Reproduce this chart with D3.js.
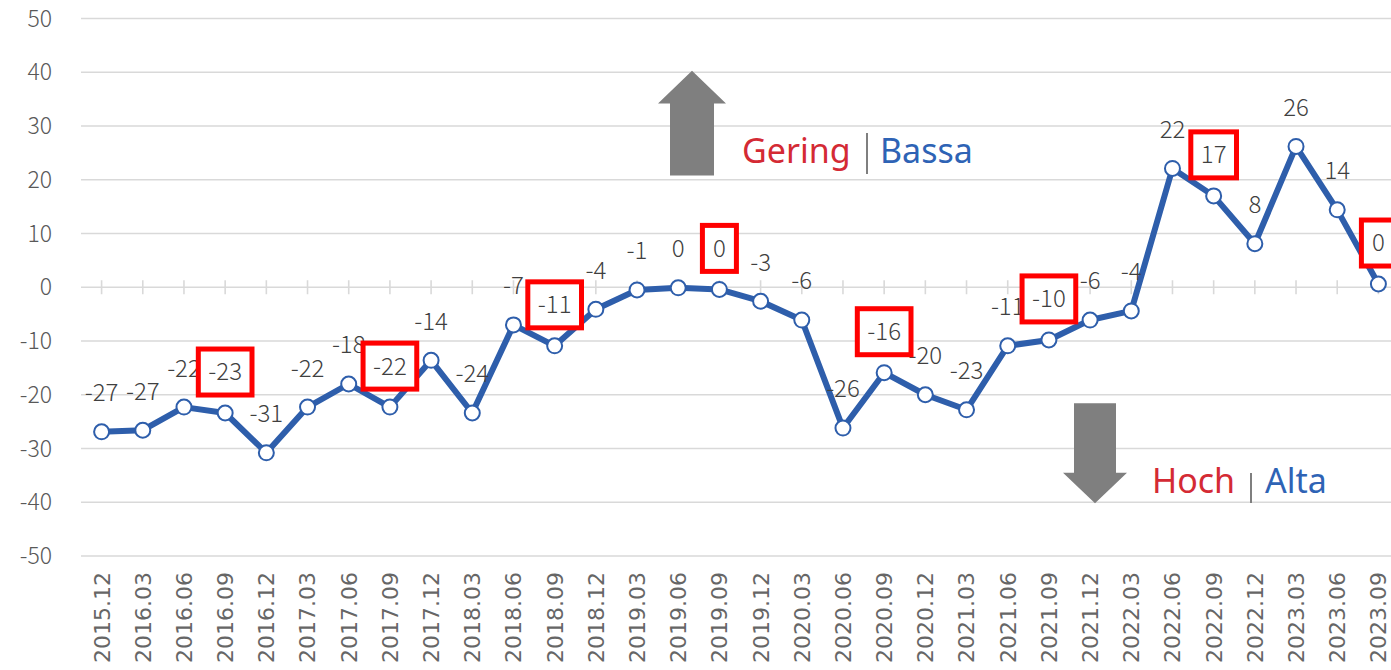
<!DOCTYPE html>
<html>
<head>
<meta charset="utf-8">
<script src="https://cdn.jsdelivr.net/npm/d3@7"></script>
<style>
  html, body { margin: 0; padding: 0; background: #fff; }
  svg { display: block; }
</style>
</head>
<body>
<svg id="chart" width="1391" height="670"></svg>
<script>
const categories = ["2015.12","2016.03","2016.06","2016.09","2016.12","2017.03","2017.06","2017.09","2017.12","2018.03","2018.06","2018.09","2018.12","2019.03","2019.06","2019.09","2019.12","2020.03","2020.06","2020.09","2020.12","2021.03","2021.06","2021.09","2021.12","2022.03","2022.06","2022.09","2022.12","2023.03","2023.06","2023.09"];
const values = [-26.9,-26.6,-22.3,-23.4,-30.8,-22.3,-18,-22.3,-13.6,-23.4,-7,-10.9,-4.1,-0.5,-0.1,-0.4,-2.6,-6.1,-26.2,-15.9,-20,-22.8,-10.9,-9.8,-6.1,-4.4,22.1,17,8.1,26.2,14.4,0.6];
const labels = ["-27","-27","-22","-23","-31","-22","-18","-22","-14","-24","-7","-11","-4","-1","0","0","-3","-6","-26","-16","-20","-23","-11","-10","-6","-4","22","17","8","26","14","0"];
const boxed = ["2016.09","2017.09","2018.09","2019.09","2020.09","2021.09","2022.09","2023.09"];
const yTicks = [50,40,30,20,10,0,-10,-20,-30,-40,-50];

const svg = d3.select("#chart");
const x = d3.scalePoint().domain(categories).range([81, 1399]).padding(0.5);
const y = d3.scaleLinear().domain([-50, 50]).range([556, 18.5]);
const data = categories.map((c, i) => ({c, v: values[i], l: labels[i], boxed: boxed.includes(c)}));

// gridlines
svg.append("g").selectAll("line").data(yTicks).join("line")
  .attr("x1", 81).attr("x2", 1399)
  .attr("y1", d => y(d)).attr("y2", d => y(d))
  .attr("stroke", "#d9d9d9").attr("stroke-width", 1.6);

// zero axis tick marks
svg.append("g").selectAll("line").data(categories).join("line")
  .attr("x1", d => x(d)).attr("x2", d => x(d))
  .attr("y1", y(0) - 7).attr("y2", y(0) + 7)
  .attr("stroke", "#d9d9d9").attr("stroke-width", 1.6);

const labFont = "'Noto Sans CJK JP', 'Noto Sans', sans-serif";

// y labels
svg.append("g").selectAll("text").data(yTicks).join("text")
  .attr("x", 52).attr("y", d => y(d)).attr("dy", "0.35em")
  .attr("text-anchor", "end")
  .attr("font-family", labFont).attr("font-weight", 300)
  .attr("font-size", 23).attr("fill", "#595959")
  .text(d => d);

// x labels
svg.append("g").selectAll("text").data(categories).join("text")
  .attr("transform", d => `translate(${x(d)},572) rotate(-90)`)
  .attr("dy", "0.36em")
  .attr("text-anchor", "end")
  .attr("font-family", "'DejaVu Sans', sans-serif")
  .attr("font-size", 22).attr("fill", "#666666")
  .text(d => d);

// annotations: arrows
const gray = "#7f7f7f";
const upX = 692, dnX = 1095;
svg.append("path")
  .attr("d", `M${upX},${y(40.3)} L${upX+34},${y(34.2)} L${upX+22},${y(34.2)} L${upX+22},${y(20.8)} L${upX-22},${y(20.8)} L${upX-22},${y(34.2)} L${upX-34},${y(34.2)} Z`)
  .attr("fill", gray);
svg.append("path")
  .attr("d", `M${dnX},${y(-40.2)} L${dnX+32},${y(-34.5)} L${dnX+21},${y(-34.5)} L${dnX+21},${y(-21.6)} L${dnX-21},${y(-21.6)} L${dnX-21},${y(-34.5)} L${dnX-32},${y(-34.5)} Z`)
  .attr("fill", gray);

// legend texts
const legendFont = "'Noto Sans', 'Open Sans', sans-serif";
function legend(xs, base, red, blue, sepX, sepY1, sepY2, blueX) {
  svg.append("text").attr("x", xs).attr("y", base)
    .attr("font-family", legendFont).attr("font-size", 34).attr("fill", "#d42a34").text(red);
  svg.append("line").attr("x1", sepX).attr("x2", sepX).attr("y1", sepY1).attr("y2", sepY2)
    .attr("stroke", "#7f7f7f").attr("stroke-width", 2);
  svg.append("text").attr("x", blueX).attr("y", base)
    .attr("font-family", legendFont).attr("font-size", 34).attr("fill", "#2e63b5").text(blue);
}
legend(742, 163, "Gering", "Bassa", 867, 133, 174, 880);
legend(1152, 493, "Hoch", "Alta", 1251, 473, 503, 1265);

// line
const line = d3.line().x(d => x(d.c)).y(d => y(d.v));
svg.append("path").datum(data)
  .attr("d", line).attr("fill", "none")
  .attr("stroke", "#2e5eab").attr("stroke-width", 6).attr("stroke-linejoin", "round");

// markers
svg.append("g").selectAll("circle").data(data).join("circle")
  .attr("cx", d => x(d.c)).attr("cy", d => y(d.v)).attr("r", 7.5)
  .attr("fill", "#fff").attr("stroke", "#2e5eab").attr("stroke-width", 2);

// plain labels
svg.append("g").selectAll("text").data(data.filter(d => !d.boxed)).join("text")
  .attr("x", d => x(d.c)).attr("y", d => y(d.v) - 39).attr("dy", "0.35em")
  .attr("text-anchor", "middle")
  .attr("font-family", labFont).attr("font-weight", 300)
  .attr("font-size", 24).attr("fill", "#404040")
  .text(d => d.l);

// boxed labels
const bg = svg.append("g");
data.filter(d => d.boxed).forEach(d => {
  const g = bg.append("g");
  const rect = g.append("rect");
  const t = g.append("text")
    .attr("x", x(d.c)).attr("y", y(d.v) - 41).attr("dy", "0.35em")
    .attr("text-anchor", "middle")
    .attr("font-family", labFont).attr("font-weight", 300)
    .attr("font-size", 24).attr("fill", "#404040")
    .text(d.l);
  const b = t.node().getBBox();
  const w = Math.max(b.width + 20, 34);
  rect.attr("x", x(d.c) - w / 2).attr("y", y(d.v) - 41 - 23)
    .attr("width", w).attr("height", 46)
    .attr("fill", "#fff").attr("stroke", "#ff0000").attr("stroke-width", 5);
});
</script>
</body>
</html>
